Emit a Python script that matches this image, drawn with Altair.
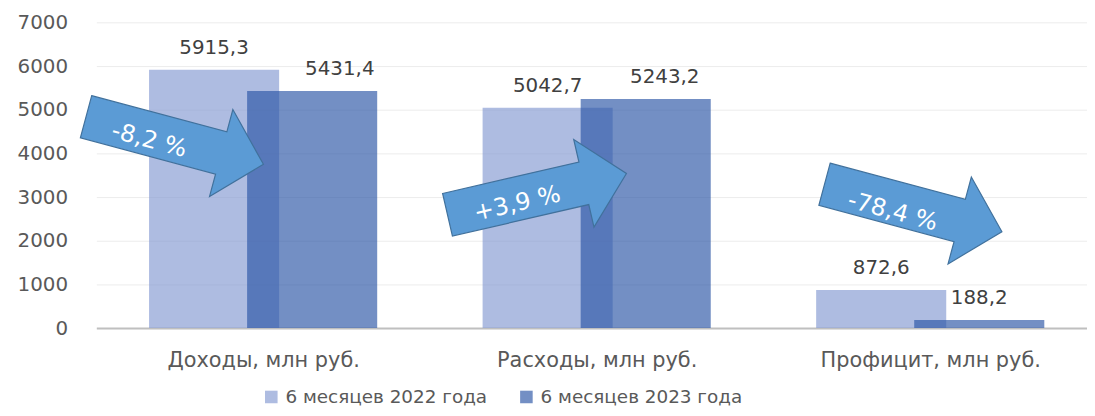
import json
import altair as alt
import pandas as pd

categories = ["Доходы, млн руб.", "Расходы, млн руб.", "Профицит, млн руб."]
series = ["6 месяцев 2022 года", "6 месяцев 2023 года"]
values_2022 = [5915.3, 5042.7, 872.6]
values_2023 = [5431.4, 5243.2, 188.2]

changes = ["-8,2 %", "+3,9 %", "-78,4 %"]
# arrow annotations placed in data units (category index, value)
arrow_x = [-0.265, 0.821, 1.949]
arrow_y = [4295, 3068, 2750]
arrow_angle = [15, 347, 15]
change_x = [-0.342, 0.762, 1.887]
change_y = [4295, 2841, 2659]
# horizontal nudge of the 2023 value labels, in category-index units
dark_label_shift = [0.083, 0.057, 0.0]

LIGHT = "#8499d2"
DARK = "#2b55a5"
FONT = "DejaVu Sans"

rows = []
for i, c in enumerate(categories):
    rows.append({"idx": i, "cat": c, "series": series[0], "sidx": 0, "value": values_2022[i], "shift": 0.0})
    rows.append({"idx": i, "cat": c, "series": series[1], "sidx": 1, "value": values_2023[i], "shift": dark_label_shift[i]})
bar_df = pd.DataFrame(rows)

arrow_df = pd.DataFrame({"ax": arrow_x, "ay": arrow_y, "angle": arrow_angle})
change_df = pd.DataFrame({"tx": change_x, "ty": change_y, "angle": arrow_angle, "label": changes})

xscale = alt.Scale(domain=[-0.5, 2.47], nice=False, zero=False)
yscale = alt.Scale(domain=[0, 7000], nice=False, zero=True)

label_expr = json.dumps(categories, ensure_ascii=False) + "[datum.value]"

xaxis = alt.Axis(values=[0, 1, 2], labelExpr=label_expr, ticks=False, grid=False,
                 domainColor="#bfbfbf", domainWidth=2, labelPadding=22, labelLimit=0,
                 labelFontSize=21, labelColor="#595959", labelFont=FONT, title=None)
yaxis = alt.Axis(values=list(range(0, 7001, 1000)), format="d", ticks=False, domain=False,
                 grid=True, gridColor="#ececec", gridWidth=1, labelPadding=29,
                 labelFontSize=20, labelColor="#595959", labelFont=FONT, title=None)

base = alt.Chart(bar_df).transform_calculate(
    pos="datum.idx + (datum.sidx == 0 ? -0.147 : 0.147)"
).transform_calculate(
    x0="datum.pos - 0.195", x1="datum.pos + 0.195",
    lpos="datum.pos + datum.shift",
    lab="replace(format(datum.value, '.1f'), '.', ',')"
)

bars = base.mark_bar(opacity=0.66).encode(
    x=alt.X("x0:Q", scale=xscale, axis=xaxis),
    x2="x1:Q",
    y=alt.Y("value:Q", scale=yscale, axis=yaxis),
    y2=alt.datum(0),
    color=alt.Color("series:N", scale=alt.Scale(domain=series, range=[LIGHT, DARK]),
                    legend=alt.Legend(title=None, orient="none", legendX=167, legendY=368,
                                      direction="horizontal", symbolType="square",
                                      symbolSize=160, symbolOpacity=0.66, symbolStrokeWidth=0,
                                      labelFontSize=18.5, labelColor="#595959", labelFont=FONT,
                                      labelLimit=0, columnPadding=30, labelOffset=5)),
)

labels = base.mark_text(fontSize=20, font=FONT, color="#404040", baseline="middle", dy=-22).encode(
    x=alt.X("lpos:Q", scale=xscale),
    y=alt.Y("value:Q", scale=yscale),
    text="lab:N",
)

ARROW = "M-1,-0.238 L0.524,-0.238 L0.524,-0.49 L1,0 L0.524,0.49 L0.524,0.238 L-1,0.238 Z"

arrows = alt.Chart(arrow_df).mark_point(shape=ARROW, size=34225, filled=True, fill="#5b9bd5",
                                        fillOpacity=1, opacity=1, stroke="#41719c",
                                        strokeWidth=1.2).encode(
    x=alt.X("ax:Q", scale=xscale),
    y=alt.Y("ay:Q", scale=yscale),
    angle=alt.Angle("angle:Q", scale=None),
)

change_text = alt.Chart(change_df).mark_text(fontSize=24, font=FONT, color="white",
                                             baseline="middle", align="center").encode(
    x=alt.X("tx:Q", scale=xscale),
    y=alt.Y("ty:Q", scale=yscale),
    angle=alt.Angle("angle:Q", scale=None),
    text="label:N",
)

chart = alt.layer(bars, arrows, change_text, labels).properties(
    width=998, height=308,
    background="white",
    autosize=alt.AutoSizeParams(type="none"),
    padding={"left": 89, "top": 13, "right": 0, "bottom": 79},
).configure_view(strokeWidth=0).configure_axisX(grid=False)

chart.save("out.html", embed_options={"renderer": "svg", "actions": False})
